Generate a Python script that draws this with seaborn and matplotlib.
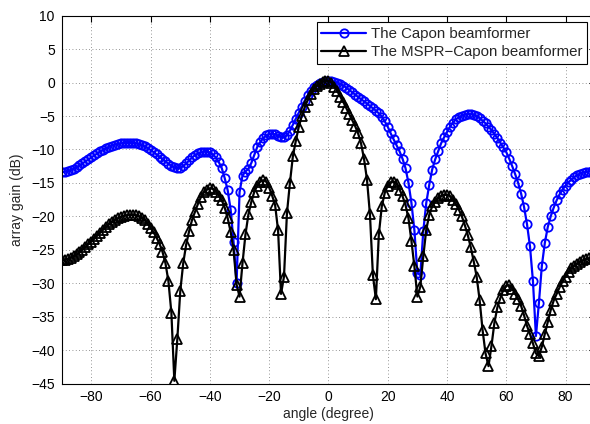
import matplotlib
matplotlib.use("Agg")
import matplotlib.pyplot as plt
import seaborn as sns

angles = list(range(-90, 91))

capon = [
    -13.4, -13.35, -13.25, -13.1, -12.9, -12.65, -12.4, -12.1, -11.8, -11.5,
    -11.2, -10.9, -10.6, -10.3, -10.05, -9.8, -9.6, -9.42, -9.28, -9.17,
    -9.1, -9.05, -9.02, -9.02, -9.05, -9.1, -9.2, -9.35, -9.55, -9.8,
    -10.1, -10.4, -10.75, -11.1, -11.45, -11.8, -12.15, -12.45, -12.7, -12.8,
    -12.75, -12.5, -12.1, -11.65, -11.2, -10.85, -10.6, -10.45, -10.35, -10.35,
    -10.45, -10.75, -11.2, -11.9, -12.8, -14.3, -16.1, -19.0, -23.9, -30.0,
    -16.4, -13.9, -13.3, -12.9, -12.0, -10.8, -9.6, -8.9, -8.3, -7.9,
    -7.7, -7.65, -7.75, -7.95, -8.15, -8.2, -7.9, -7.2, -6.3, -5.4,
    -4.5, -3.6, -2.7, -1.9, -1.2, -0.7, -0.3, -0.05, 0.1, 0.2,
    0.2, 0.2, 0.15, 0.0, -0.2, -0.45, -0.75, -1.1, -1.45, -1.8,
    -2.15, -2.5, -2.8, -3.15, -3.5, -3.85, -4.2, -4.6, -5.1, -5.8,
    -6.6, -7.6, -8.5, -9.4, -10.3, -11.4, -12.8, -15.0, -18.0, -22.1,
    -28.5, -28.8, -22.2, -18.0, -15.3, -13.0, -11.5, -10.3, -9.1, -8.2,
    -7.4, -6.6, -6.0, -5.5, -5.2, -4.95, -4.8, -4.7, -4.7, -4.8,
    -5.0, -5.3, -5.7, -6.1, -6.6, -7.1, -7.7, -8.3, -9.0, -9.7,
    -10.4, -11.4, -12.5, -13.7, -15.0, -16.6, -18.6, -21.2, -24.5, -29.7,
    -37.9, -33.0, -27.4, -24.0, -21.6, -20.0, -18.7, -17.6, -16.7, -16.0,
    -15.4, -14.9, -14.5, -14.1, -13.8, -13.6, -13.45, -13.35, -13.3, -13.25,
    -13.2,
]

mspr = [
    -26.6, -26.5, -26.4, -26.2, -26.0, -25.7, -25.4, -25.0, -24.6, -24.2,
    -23.8, -23.35, -22.9, -22.45, -22.0, -21.6, -21.2, -20.85, -20.55, -20.3,
    -20.1, -19.95, -19.85, -19.8, -19.8, -19.85, -20.0, -20.25, -20.6, -21.1,
    -21.7, -22.4, -23.2, -24.1, -25.3, -27.0, -29.7, -34.4, -44.6, -38.4,
    -31.2, -27.0, -24.2, -22.2, -20.5, -19.3, -18.1, -17.1, -16.4, -16.0,
    -15.8, -15.9, -16.3, -16.9, -17.6, -18.7, -20.3, -22.3, -25.1, -30.2,
    -32.0, -27.0, -22.7, -19.7, -17.8, -16.3, -15.4, -14.8, -14.6, -14.8,
    -15.7, -16.9, -18.3, -22.1, -31.6, -29.0, -19.5, -15.0, -11.0, -8.7,
    -6.6, -5.0, -3.7, -2.6, -1.7, -1.0, -0.5, -0.15, 0.1, 0.25,
    0.3, 0.0, -0.6, -1.3, -2.1, -2.9, -3.8, -4.7, -5.6, -6.5,
    -7.6, -9.1, -11.4, -14.5, -19.7, -28.8, -32.4, -22.7, -18.5, -16.5,
    -15.4, -14.9, -14.8, -15.2, -16.0, -17.0, -18.3, -20.3, -23.7, -27.5,
    -32.0, -30.5, -26.0, -22.0, -19.8, -18.5, -17.8, -17.3, -17.0, -16.8,
    -16.8, -17.0, -17.5, -18.2, -19.0, -20.0, -21.3, -22.8, -24.6, -26.7,
    -29.0, -32.5, -37.0, -40.5, -42.4, -39.4, -35.9, -33.6, -32.2, -31.0,
    -30.4, -30.3, -30.8, -31.6, -32.4, -33.4, -34.8, -36.4, -37.6, -39.0,
    -40.5, -40.9, -39.5, -37.6, -35.8, -34.0, -32.6, -31.6, -30.6, -29.7,
    -29.0, -28.3, -27.8, -27.4, -27.1, -26.8, -26.6, -26.4, -26.3, -26.2,
    -26.1,
]

series_labels = ["The Capon beamformer", "The MSPR\u2212Capon beamformer"]
x_ticks = list(range(-80, 81, 20))
y_ticks = list(range(-45, 11, 5))

sns.set_style("white")
plt.rcParams["font.family"] = ["Liberation Sans", "DejaVu Sans"]
plt.rcParams["axes.unicode_minus"] = True

fig = plt.figure(figsize=(5.9, 4.24), dpi=100)
ax = fig.add_axes([0.1046, 0.0955, 0.9042, 0.8675])

sns.lineplot(x=angles, y=capon, ax=ax, color="#0000ff", lw=1.6,
             marker="o", markersize=6, markerfacecolor="none",
             markeredgecolor="#0000ff", markeredgewidth=1.3,
             label=series_labels[0])
sns.lineplot(x=angles, y=mspr, ax=ax, color="black", lw=1.6,
             marker="^", markersize=6.5, markerfacecolor="none",
             markeredgecolor="black", markeredgewidth=1.3,
             label=series_labels[1])

ax.set_xlim(-90, 90)
ax.set_ylim(-45, 10)
ax.set_xticks(x_ticks)
ax.set_yticks(y_ticks)
ax.grid(True, linestyle=(0, (1, 3)), color="0.45", lw=0.6)
ax.tick_params(direction="in", top=True, right=True, length=4,
               width=0.8, labelsize=10, colors="black", pad=5)
for s in ax.spines.values():
    s.set_color("black")
    s.set_linewidth(0.8)
    s.set_visible(True)

ax.set_xlabel("angle (degree)", fontsize=10, labelpad=2)
ax.set_ylabel("array gain (dB)", fontsize=10, labelpad=5)

leg = ax.legend(loc="upper right", bbox_to_anchor=(0.9949, 0.9474),
                bbox_transform=fig.transFigure, borderaxespad=0,
                fancybox=False, framealpha=1, edgecolor="black",
                fontsize=10.8, handlelength=3.0, handletextpad=0.3,
                borderpad=0.3, labelspacing=0.3)
leg.get_frame().set_linewidth(0.8)

fig.savefig("out.png", dpi=100)
